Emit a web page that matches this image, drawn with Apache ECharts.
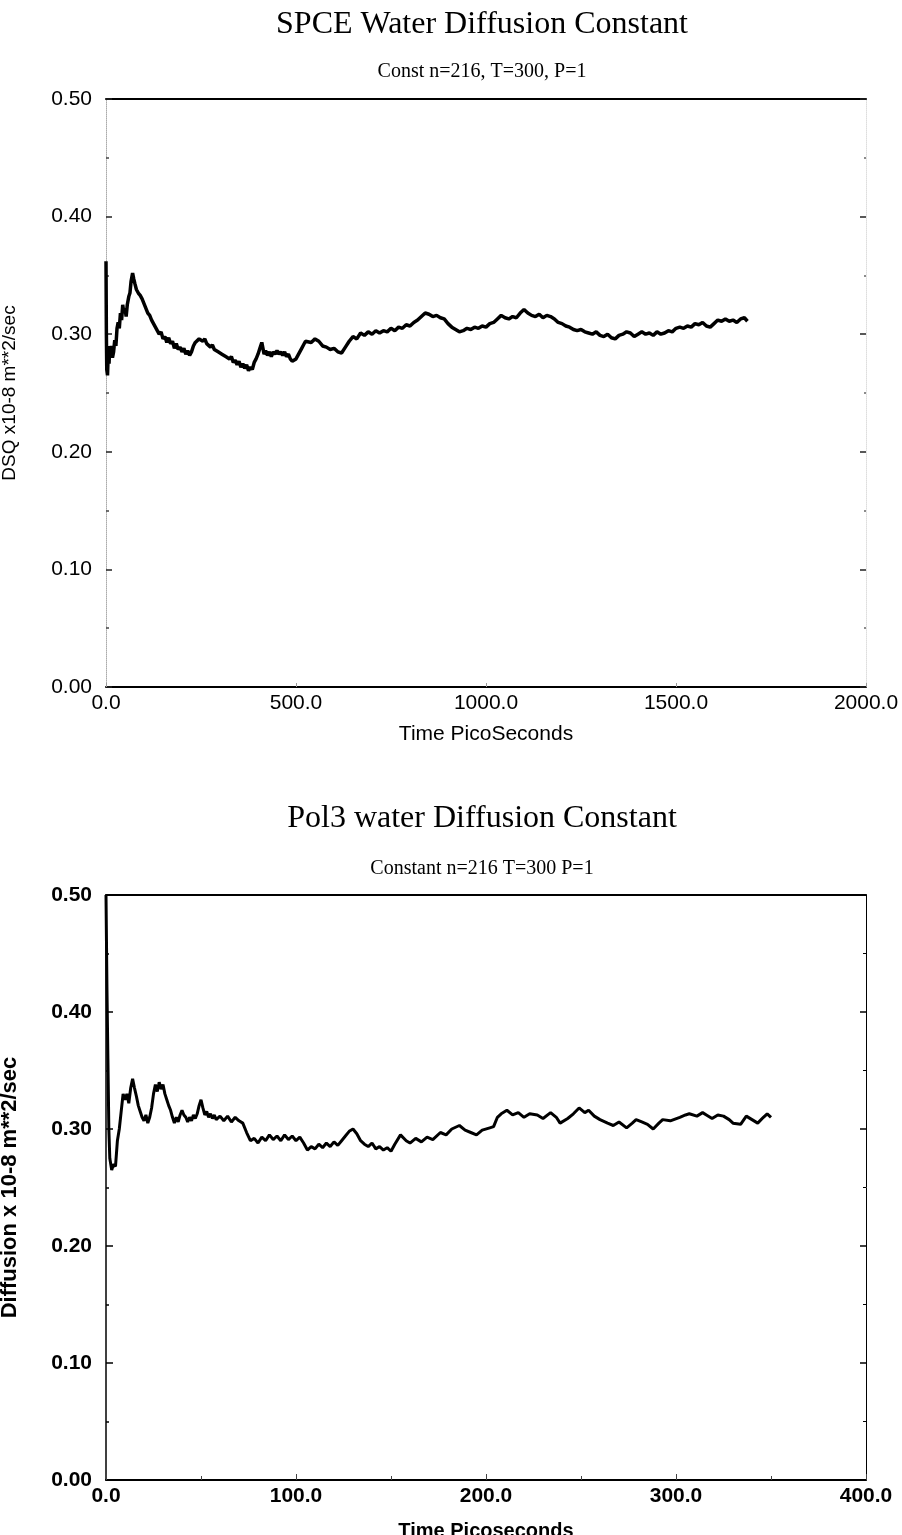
<!DOCTYPE html>
<html><head><meta charset="utf-8">
<script src="https://cdn.jsdelivr.net/npm/echarts@6/dist/echarts.min.js"></script>
<style>html,body{margin:0;padding:0;background:#fff}#c{width:902px;height:1535px}</style>
</head><body><div id="c"></div>
<script>
// ---- Chart 1: SPCE ----
const spceTitle = 'SPCE Water Diffusion Constant';
const spceSubtitle = 'Const n=216, T=300, P=1';
const spceXName = 'Time PicoSeconds';
const spceYName = 'DSQ x10-8 m**2/sec';
const spceT = [0,1,2,4,6,8,10,12,14,17,20,23,26,29,32,35,38,41,44,47,50,53,56,60,63,66,70,73,76,80,85,90,95,100,105,110,115,120,125,130,135,140,145,150,155,160,165,170,175,180,185,190,195,200,205,210,215,220,225,230,235,240,245,250,255,260,265,270,275,280,285,290,295,300,305,310,315,320,325,330,335,340,345,350,355,360,365,370,375,380,385,390,395,400,405,410,413,416,420,425,430,435,440,445,450,455,460,465,470,475,480,485,490,495,500,505,510,515,520,525,530,540,550,560,570,580,590,600,610,620,630,640,650,660,670,680,690,700,710,720,730,740,750,760,770,780,790,800,810,820,830,840,850,860,870,880,890,900,910,920,930,940,950,960,970,980,990,1000,1010,1020,1030,1040,1050,1060,1070,1080,1090,1100,1110,1120,1130,1140,1150,1160,1170,1180,1190,1200,1210,1220,1230,1240,1250,1260,1270,1280,1290,1300,1310,1320,1330,1340,1350,1360,1370,1380,1390,1400,1410,1420,1430,1440,1450,1460,1470,1480,1490,1500,1510,1520,1530,1540,1550,1560,1570,1580,1590,1600,1610,1620,1630,1640,1650,1660,1670,1680,1688];
const spceD = [0.362,0.300,0.270,0.265,0.285,0.275,0.290,0.283,0.290,0.280,0.285,0.295,0.290,0.305,0.310,0.305,0.318,0.312,0.325,0.318,0.322,0.315,0.325,0.332,0.335,0.345,0.352,0.347,0.343,0.338,0.335,0.333,0.330,0.326,0.325,0.318,0.316,0.312,0.313,0.306,0.305,0.300,0.302,0.296,0.298,0.293,0.297,0.292,0.294,0.288,0.292,0.287,0.289,0.285,0.288,0.283,0.286,0.282,0.285,0.290,0.293,0.292,0.296,0.297,0.294,0.296,0.292,0.293,0.289,0.291,0.287,0.288,0.285,0.286,0.283,0.284,0.281,0.282,0.279,0.281,0.276,0.278,0.274,0.277,0.272,0.275,0.271,0.274,0.269,0.272,0.270,0.276,0.279,0.283,0.288,0.293,0.288,0.283,0.286,0.282,0.285,0.281,0.285,0.283,0.286,0.283,0.285,0.282,0.285,0.281,0.283,0.279,0.277,0.276,0.279,0.282,0.285,0.288,0.291,0.294,0.295,0.293,0.296,0.294,0.290,0.289,0.287,0.288,0.285,0.284,0.289,0.294,0.298,0.296,0.301,0.299,0.302,0.300,0.303,0.301,0.303,0.302,0.305,0.303,0.306,0.305,0.308,0.307,0.310,0.312,0.315,0.318,0.317,0.315,0.316,0.314,0.313,0.309,0.306,0.304,0.302,0.303,0.305,0.304,0.306,0.305,0.307,0.306,0.309,0.310,0.313,0.316,0.314,0.313,0.315,0.314,0.318,0.321,0.318,0.316,0.315,0.317,0.314,0.316,0.315,0.313,0.310,0.309,0.307,0.306,0.304,0.303,0.304,0.302,0.301,0.300,0.302,0.299,0.298,0.300,0.297,0.296,0.299,0.300,0.302,0.301,0.298,0.300,0.302,0.300,0.301,0.299,0.302,0.300,0.301,0.303,0.302,0.305,0.306,0.305,0.307,0.306,0.309,0.308,0.310,0.307,0.306,0.309,0.312,0.311,0.313,0.311,0.312,0.310,0.313,0.314,0.311];
const spceXLabels = ['0.0','500.0','1000.0','1500.0','2000.0'];

// ---- Chart 2: Pol3 ----
const polTitle = 'Pol3 water Diffusion Constant';
const polSubtitle = 'Constant n=216 T=300 P=1';
const polXName = 'Time Picoseconds';
const polYName = 'Diffusion x 10-8 m**2/sec';
const polT = [0,0.5,1,1.5,2,3,4,5,6,7,8,9,10,11,12,13,14,15,16,17,18,19,20,21,22,23,24,25,26,27,28,29,30,31,32,33,34,35,36,37,38,39,40,41,42,43,44,45,46,47,48,49,50,51,52,53,54,55,56,57,58,60,62,64,66,68,70,72,74,76,78,80,82,84,86,88,90,92,94,96,98,100,102,104,106,108,110,112,114,116,118,120,122,124,126,128,130,132,134,136,138,140,142,144,146,148,150,152,155,158,160,163,166,169,172,176,179,182,186,189,192,195,198,202,204,206,208,211,214,217,220,223,227,230,234,237,239,243,246,249,252,254,257,260,264,267,270,274,277,279,282,285,288,291,293,297,302,305,307,311,314,316,319,322,325,328,330,334,337,340,343,346,348,350];
const polD = [0.500,0.420,0.360,0.300,0.275,0.265,0.270,0.268,0.290,0.300,0.315,0.330,0.325,0.330,0.322,0.335,0.343,0.335,0.328,0.320,0.315,0.310,0.307,0.312,0.305,0.310,0.318,0.330,0.338,0.332,0.340,0.334,0.338,0.330,0.325,0.320,0.316,0.310,0.305,0.310,0.306,0.312,0.316,0.312,0.310,0.306,0.310,0.307,0.312,0.309,0.313,0.320,0.325,0.318,0.312,0.315,0.310,0.313,0.309,0.312,0.308,0.311,0.307,0.311,0.306,0.310,0.307,0.305,0.297,0.290,0.292,0.288,0.293,0.290,0.295,0.291,0.294,0.290,0.295,0.291,0.294,0.290,0.293,0.288,0.282,0.285,0.283,0.287,0.284,0.288,0.285,0.289,0.286,0.290,0.294,0.298,0.300,0.296,0.290,0.287,0.285,0.288,0.283,0.285,0.282,0.284,0.281,0.287,0.295,0.290,0.288,0.292,0.289,0.293,0.291,0.297,0.295,0.300,0.303,0.299,0.297,0.295,0.299,0.301,0.302,0.310,0.313,0.316,0.312,0.314,0.310,0.313,0.312,0.309,0.314,0.310,0.305,0.309,0.313,0.318,0.314,0.316,0.311,0.308,0.305,0.303,0.306,0.301,0.305,0.308,0.306,0.304,0.300,0.305,0.308,0.307,0.310,0.312,0.313,0.311,0.314,0.312,0.309,0.312,0.311,0.308,0.305,0.304,0.311,0.308,0.305,0.310,0.313,0.310];
const polXLabels = ['0.0','100.0','200.0','300.0','400.0'];

const yLabels = ['0.00','0.10','0.20','0.30','0.40','0.50'];

function pairs(t, d){ return t.map((v,i)=>[v,d[i]]); }

const GL = 106, GR = 36;
const g1 = {top: 99, height: 588};
const g2 = {top: 895, height: 585};
const cx = GL + (902 - GL - GR) / 2 - 4;

const sans = 'Liberation Sans, Arial, sans-serif';
const serif = 'Liberation Serif, Times New Roman, serif';

const chart = echarts.init(document.getElementById('c'), null, {renderer:'canvas'});
chart.setOption({
  backgroundColor: '#fff',
  animation: false,
  graphic: [
    {type:'text', x: cx, y: g1.top - 74, style:{text: spceTitle, font: '32px ' + serif, fill:'#000', textAlign:'center', textVerticalAlign:'middle'}},
    {type:'text', x: cx, y: g1.top - 27, style:{text: spceSubtitle, font: '20px ' + serif, fill:'#000', textAlign:'center', textVerticalAlign:'middle'}},
    {type:'text', x: cx, y: g2.top - 76, style:{text: polTitle, font: '32px ' + serif, fill:'#000', textAlign:'center', textVerticalAlign:'middle'}},
    {type:'text', x: cx, y: g2.top - 26, style:{text: polSubtitle, font: '20px ' + serif, fill:'#000', textAlign:'center', textVerticalAlign:'middle'}}
  ],
  grid: [
    {left: GL, right: GR, top: g1.top, height: g1.height, outerBoundsMode: 'none', containLabel: false},
    {left: GL, right: GR, top: g2.top, height: g2.height, outerBoundsMode: 'none', containLabel: false}
  ],
  xAxis: [
    {gridIndex:0, type:'value', min:0, max:2000, interval:500, position:'bottom',
     name: spceXName, nameLocation:'middle', nameGap: 37,
     nameTextStyle:{fontFamily:sans, fontSize:21, color:'#000'},
     axisLine:{show:true, onZero:false, lineStyle:{color:'#000', width:2}},
     axisTick:{show:true, inside:true, length:4, lineStyle:{color:'#999', width:1}},
     axisLabel:{fontFamily:sans, fontSize:21, color:'#000', margin:6, formatter:(v)=>spceXLabels[Math.round(v/500)]},
     splitLine:{show:false}},
    {gridIndex:0, type:'value', min:0, max:2000, interval:500, position:'top',
     axisLine:{show:true, onZero:false, lineStyle:{color:'#000', width:2}},
     axisTick:{show:false}, axisLabel:{show:false}, splitLine:{show:false}},
    {gridIndex:1, type:'value', min:0, max:400, interval:100, position:'bottom',
     name: polXName, nameLocation:'middle', nameGap: 41,
     nameTextStyle:{fontFamily:sans, fontSize:20, fontWeight:'bold', color:'#000'},
     axisLine:{show:true, onZero:false, lineStyle:{color:'#000', width:2}},
     axisTick:{show:true, inside:true, length:6, lineStyle:{color:'#444', width:1}},
     minorTick:{show:true, splitNumber:2, length:4, lineStyle:{color:'#444'}},
     axisLabel:{fontFamily:sans, fontSize:21, fontWeight:'bold', color:'#000', margin:6, formatter:(v)=>polXLabels[Math.round(v/100)]},
     splitLine:{show:false}},
    {gridIndex:1, type:'value', min:0, max:400, interval:100, position:'top',
     axisLine:{show:true, onZero:false, lineStyle:{color:'#000', width:2}},
     axisTick:{show:false}, axisLabel:{show:false}, splitLine:{show:false}}
  ],
  yAxis: [
    {gridIndex:0, type:'value', min:0, max:0.5, interval:0.1, position:'left',
     name: spceYName, nameLocation:'middle', nameGap: 87, nameRotate: 90,
     nameTextStyle:{fontFamily:sans, fontSize:19, color:'#000'},
     axisLine:{show:true, onZero:false, lineStyle:{color:'#aaa', width:1, type:'dotted'}},
     axisTick:{show:true, inside:true, length:6, lineStyle:{color:'#222', width:1.5}},
     minorTick:{show:true, splitNumber:2, length:3, lineStyle:{color:'#444', width:1.5}},
     axisLabel:{fontFamily:sans, fontSize:21, color:'#000', margin:14, formatter:(v)=>yLabels[Math.round(v*10)]},
     splitLine:{show:false}},
    {gridIndex:0, type:'value', min:0, max:0.5, interval:0.1, position:'right',
     axisLine:{show:true, onZero:false, lineStyle:{color:'#ddd', width:1, type:'dotted'}},
     axisTick:{show:true, inside:true, length:6, lineStyle:{color:'#222', width:1.5}},
     minorTick:{show:true, splitNumber:2, length:2, lineStyle:{color:'#666', width:1.5}},
     axisLabel:{show:false}, splitLine:{show:false}},
    {gridIndex:1, type:'value', min:0, max:0.5, interval:0.1, position:'left',
     name: polYName, nameLocation:'middle', nameGap: 85, nameRotate: 90,
     nameTextStyle:{fontFamily:sans, fontSize:22, fontWeight:'bold', color:'#000'},
     axisLine:{show:true, onZero:false, lineStyle:{color:'#000', width:1.5}},
     axisTick:{show:true, inside:true, length:7, lineStyle:{color:'#000', width:1.5}},
     minorTick:{show:true, splitNumber:2, length:3, lineStyle:{color:'#000', width:1.5}},
     axisLabel:{fontFamily:sans, fontSize:21, fontWeight:'bold', color:'#000', margin:14, formatter:(v)=>yLabels[Math.round(v*10)]},
     splitLine:{show:false}},
    {gridIndex:1, type:'value', min:0, max:0.5, interval:0.1, position:'right',
     axisLine:{show:true, onZero:false, lineStyle:{color:'#000', width:1}},
     axisTick:{show:true, inside:true, length:6, lineStyle:{color:'#000', width:1.5}},
     minorTick:{show:true, splitNumber:2, length:3, lineStyle:{color:'#000', width:1}},
     axisLabel:{show:false}, splitLine:{show:false}}
  ],
  series: [
    {type:'line', xAxisIndex:0, yAxisIndex:0, data: pairs(spceT, spceD), showSymbol:false, symbol:'none',
     lineStyle:{color:'#000', width:3.5}, silent:true},
    {type:'line', xAxisIndex:2, yAxisIndex:2, data: pairs(polT, polD), showSymbol:false, symbol:'none',
     lineStyle:{color:'#000', width:3}, silent:true}
  ]
});
</script>
</body></html>
